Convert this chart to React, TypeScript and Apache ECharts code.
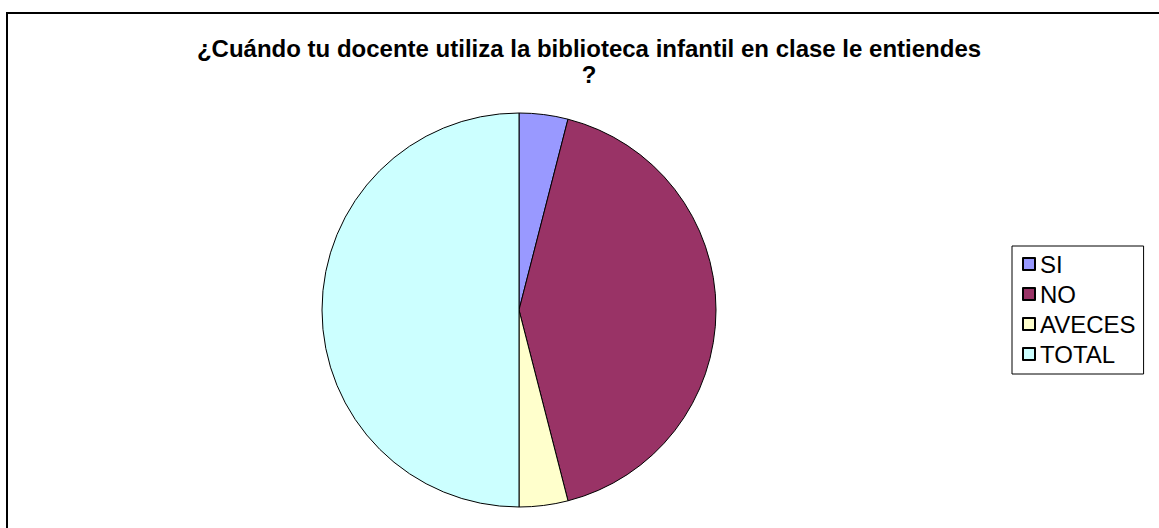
import React, { useEffect, useRef } from "react";
import * as echarts from "echarts";

const titleText = "¿Cuándo tu docente utiliza la biblioteca infantil en clase le entiendes\n?";
const categories = ["SI", "NO", "AVECES", "TOTAL"];
const values = [2, 21, 2, 25];
const colors = ["#9999FF", "#993366", "#FFFFCC", "#CCFFFF"];

export default function App() {
  const ref = useRef<HTMLDivElement>(null);
  useEffect(() => {
    if (!ref.current) return;
    const chart = echarts.init(ref.current, undefined, { renderer: "svg" });
    chart.setOption({
      animation: false,
      backgroundColor: "#ffffff",
      textStyle: { fontFamily: "Liberation Sans, Arial, sans-serif" },
      title: {
        text: titleText,
        left: 584,
        top: 30,
        textAlign: "center",
        textStyle: {
          fontFamily: "Liberation Sans, Arial, sans-serif",
          fontWeight: "bold",
          fontSize: 24,
          lineHeight: 26,
          color: "#000",
        },
      },
      graphic: [
        {
          type: "rect",
          shape: { x: 7, y: 13, width: 1170, height: 530 },
          style: { fill: "none", stroke: "#000", lineWidth: 2 },
          silent: true,
        },
      ],
      legend: {
        orient: "vertical",
        left: 1012,
        top: 246,
        padding: [6, 8, 8, 10],
        borderColor: "#000",
        borderWidth: 1,
        itemWidth: 12,
        itemHeight: 12,
        itemGap: 6,
        icon: "rect",
        data: categories,
        textStyle: {
          fontFamily: "Liberation Sans, Arial, sans-serif",
          fontSize: 24,
          lineHeight: 22,
          color: "#000",
        },
      },
      series: [
        {
          type: "pie",
          center: [519, 310],
          radius: 197,
          startAngle: 90,
          clockwise: true,
          label: { show: false },
          labelLine: { show: false },
          emphasis: { disabled: true },
          itemStyle: { borderColor: "#000", borderWidth: 1 },
          data: categories.map((c, i) => ({
            name: c,
            value: values[i],
            itemStyle: { color: colors[i] },
          })),
        },
      ],
    });
    return () => chart.dispose();
  }, []);
  return (
    <div
      ref={ref}
      style={{ position: "fixed", left: 0, top: 0, width: 1159, height: 528 }}
    />
  );
}
